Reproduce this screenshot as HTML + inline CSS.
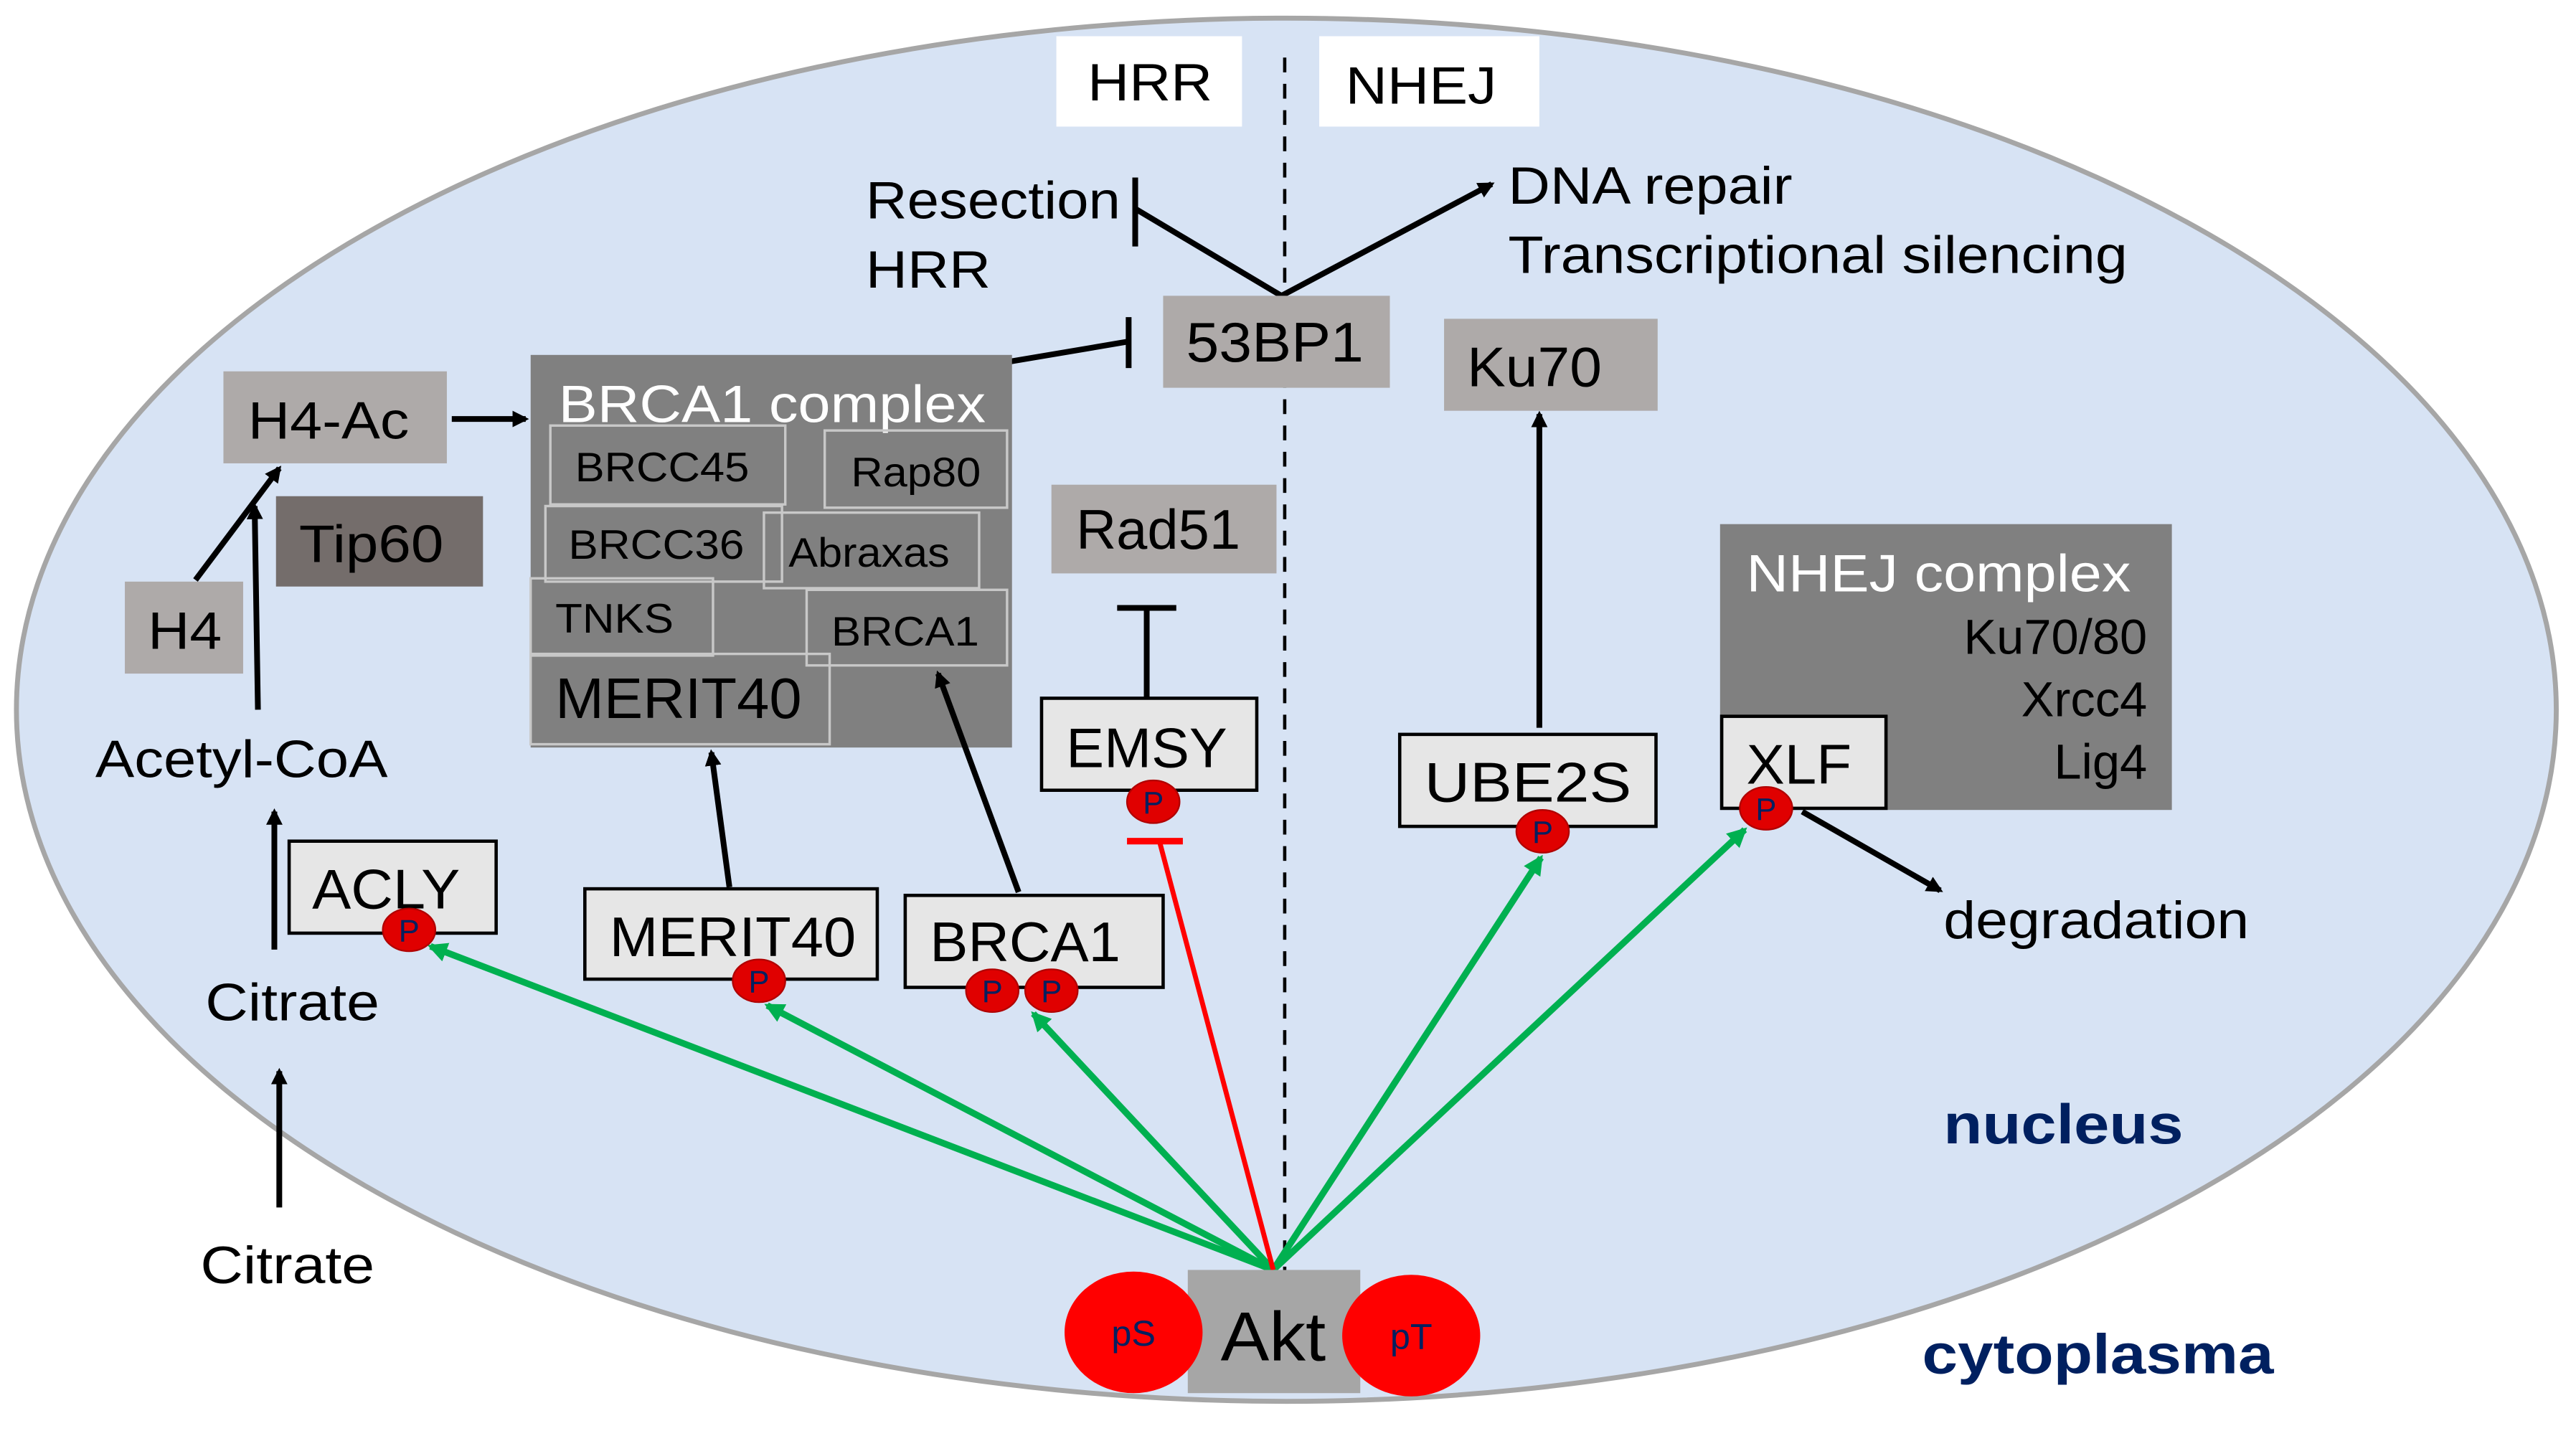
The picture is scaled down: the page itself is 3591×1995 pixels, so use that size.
<!DOCTYPE html>
<html><head><meta charset="utf-8"><style>html,body{margin:0;padding:0;background:#fff}svg{display:block}</style></head>
<body>
<svg width="3591" height="1995" viewBox="0 0 1568 871" xmlns="http://www.w3.org/2000/svg" font-family="Liberation Sans, Arial, sans-serif">
<defs>
<marker id="ab" markerWidth="10" markerHeight="10" refX="8" refY="5" orient="auto" markerUnits="userSpaceOnUse"><path d="M0,0 L10,5 L0,10 z" fill="#000"/></marker>
<marker id="ag" markerWidth="12" markerHeight="12" refX="10" refY="6" orient="auto" markerUnits="userSpaceOnUse"><path d="M0,0 L12,6 L0,12 z" fill="#00b050"/></marker>
</defs>
<rect width="1568" height="871" fill="#fff"/>
<ellipse cx="783" cy="432" rx="773" ry="421" fill="#d7e3f4" stroke="#a6a6a6" stroke-width="3"/>
<rect x="643" y="22" width="113" height="55" fill="#fff"/>
<text x="700" y="61" font-size="32" text-anchor="middle" textLength="76" lengthAdjust="spacingAndGlyphs">HRR</text>
<rect x="803" y="22" width="134" height="55" fill="#fff"/>
<text x="865" y="63" font-size="32" text-anchor="middle" textLength="92" lengthAdjust="spacingAndGlyphs">NHEJ</text>
<line x1="782" y1="35" x2="782" y2="775" stroke="#000" stroke-width="2" stroke-dasharray="9,7"/>
<g font-size="32">
<text x="527" y="133" textLength="155" lengthAdjust="spacingAndGlyphs">Resection</text><text x="527" y="175" textLength="76" lengthAdjust="spacingAndGlyphs">HRR</text>
<text x="918" y="124" textLength="173" lengthAdjust="spacingAndGlyphs">DNA repair</text><text x="918" y="166" textLength="377" lengthAdjust="spacingAndGlyphs">Transcriptional silencing</text>
</g>
<g stroke="#000" stroke-width="3.5" fill="none">
<polyline points="691,127 780,180"/>
<line x1="691" y1="108" x2="691" y2="150"/>
<line x1="780" y1="180" x2="908" y2="112" marker-end="url(#ab)"/>
<line x1="615" y1="220" x2="686" y2="208"/>
<line x1="687" y1="193" x2="687" y2="224"/>
</g>
<rect x="708" y="180" width="138" height="56" fill="#aeaaa9"/>
<text x="722" y="220" font-size="34" textLength="108" lengthAdjust="spacingAndGlyphs">53BP1</text>
<rect x="323" y="216" width="293" height="239" fill="#808080"/>
<text x="340" y="257" font-size="32" fill="#fff" textLength="260" lengthAdjust="spacingAndGlyphs">BRCA1 complex</text>
<g fill="none" stroke="#c8c8c8" stroke-width="1.5">
<rect x="335" y="259" width="143" height="48"/><rect x="502" y="262" width="111" height="47"/>
<rect x="332" y="308" width="144" height="46"/><rect x="465" y="312" width="131" height="46"/>
<rect x="323" y="352" width="111" height="47"/><rect x="491" y="359" width="122" height="46"/>
<rect x="323" y="398" width="182" height="55"/>
</g>
<g font-size="25">
<text x="350" y="293" textLength="106" lengthAdjust="spacingAndGlyphs">BRCC45</text><text x="518" y="296" textLength="79" lengthAdjust="spacingAndGlyphs">Rap80</text>
<text x="346" y="340" textLength="107" lengthAdjust="spacingAndGlyphs">BRCC36</text><text x="480" y="345" textLength="98" lengthAdjust="spacingAndGlyphs">Abraxas</text>
<text x="338" y="385" textLength="72" lengthAdjust="spacingAndGlyphs">TNKS</text><text x="506" y="393" textLength="90" lengthAdjust="spacingAndGlyphs">BRCA1</text>
</g>
<text x="338" y="437" font-size="35" textLength="150" lengthAdjust="spacingAndGlyphs">MERIT40</text>
<rect x="136" y="226" width="136" height="56" fill="#aeaaa9"/>
<text x="151" y="267" font-size="32" textLength="98" lengthAdjust="spacingAndGlyphs">H4-Ac</text>
<rect x="168" y="302" width="126" height="55" fill="#746d6b"/>
<text x="182" y="342" font-size="32" textLength="88" lengthAdjust="spacingAndGlyphs">Tip60</text>
<rect x="76" y="354" width="72" height="56" fill="#aeaaa9"/>
<text x="90" y="395" font-size="32" textLength="45" lengthAdjust="spacingAndGlyphs">H4</text>
<text x="58" y="473" font-size="32" textLength="178" lengthAdjust="spacingAndGlyphs">Acetyl-CoA</text>
<text x="125" y="621" font-size="32" textLength="106" lengthAdjust="spacingAndGlyphs">Citrate</text>
<text x="122" y="781" font-size="32" textLength="106" lengthAdjust="spacingAndGlyphs">Citrate</text>
<g stroke="#000" stroke-width="3.5" fill="none">
<line x1="275" y1="255" x2="320" y2="255" marker-end="url(#ab)"/>
<line x1="119" y1="353" x2="170" y2="285" marker-end="url(#ab)"/>
<line x1="157" y1="432" x2="155" y2="308" marker-end="url(#ab)"/>
<line x1="167" y1="578" x2="167" y2="494" marker-end="url(#ab)"/>
<line x1="170" y1="735" x2="170" y2="652" marker-end="url(#ab)"/>
<line x1="444" y1="540" x2="433" y2="458" marker-end="url(#ab)"/>
<line x1="620" y1="543" x2="571" y2="410" marker-end="url(#ab)"/>
<line x1="698" y1="425" x2="698" y2="370"/>
<line x1="680" y1="370" x2="716" y2="370"/>
<line x1="937" y1="443" x2="937" y2="252" marker-end="url(#ab)"/>
<line x1="1097" y1="494" x2="1181" y2="542" marker-end="url(#ab)"/>
</g>
<g fill="#e6e6e6" stroke="#000" stroke-width="2">
<rect x="176" y="512" width="126" height="56"/>
<rect x="356" y="541" width="178" height="55"/>
<rect x="551" y="545" width="157" height="56"/>
<rect x="634" y="425" width="131" height="56"/>
<rect x="852" y="447" width="156" height="56"/>
</g>
<g font-size="34" lengthAdjust="spacingAndGlyphs">
<text x="190" y="553" textLength="90" lengthAdjust="spacingAndGlyphs">ACLY</text><text x="371" y="582" textLength="150" lengthAdjust="spacingAndGlyphs">MERIT40</text>
<text x="566" y="585" textLength="116" lengthAdjust="spacingAndGlyphs">BRCA1</text><text x="649" y="467" textLength="98" lengthAdjust="spacingAndGlyphs">EMSY</text><text x="867" y="488" textLength="126" lengthAdjust="spacingAndGlyphs">UBE2S</text>
</g>
<rect x="640" y="295" width="137" height="54" fill="#aeaaa9"/>
<text x="655" y="334" font-size="34" textLength="100" lengthAdjust="spacingAndGlyphs">Rad51</text>
<rect x="879" y="194" width="130" height="56" fill="#aeaaa9"/>
<text x="893" y="235" font-size="34" textLength="82" lengthAdjust="spacingAndGlyphs">Ku70</text>
<rect x="1047" y="319" width="275" height="174" fill="#808080"/>
<text x="1063" y="360" font-size="32" fill="#fff" textLength="234" lengthAdjust="spacingAndGlyphs">NHEJ complex</text>
<g font-size="30" text-anchor="end"><text x="1307" y="398">Ku70/80</text><text x="1307" y="436">Xrcc4</text><text x="1307" y="474">Lig4</text></g>
<rect x="1048" y="436" width="100" height="56" fill="#e6e6e6" stroke="#000" stroke-width="2"/>
<text x="1063" y="477" font-size="34" textLength="64" lengthAdjust="spacingAndGlyphs">XLF</text>
<text x="1183" y="571" font-size="32" textLength="186" lengthAdjust="spacingAndGlyphs">degradation</text>
<g stroke="#00b050" stroke-width="4" fill="none">
<line x1="775" y1="773" x2="262" y2="576" marker-end="url(#ag)"/>
<line x1="775" y1="773" x2="467" y2="612" marker-end="url(#ag)"/>
<line x1="775" y1="773" x2="629" y2="617" marker-end="url(#ag)"/>
<line x1="775" y1="773" x2="938" y2="522" marker-end="url(#ag)"/>
<line x1="775" y1="773" x2="1062" y2="505" marker-end="url(#ag)"/>
</g>
<line x1="775" y1="773" x2="706" y2="513" stroke="#ff0000" stroke-width="3"/>
<line x1="686" y1="512" x2="720" y2="512" stroke="#ff0000" stroke-width="4"/>
<g fill="#e00000" stroke="#b00000" stroke-width="1">
<ellipse cx="249" cy="566" rx="16" ry="13"/><ellipse cx="462" cy="597" rx="16" ry="13"/>
<ellipse cx="604" cy="603" rx="16" ry="13"/><ellipse cx="640" cy="603" rx="16" ry="13"/>
<ellipse cx="702" cy="488" rx="16" ry="13"/><ellipse cx="939" cy="506" rx="16" ry="13"/>
<ellipse cx="1075" cy="492" rx="16" ry="13"/>
</g>
<g font-size="19" fill="#002060" text-anchor="middle">
<text x="249" y="573">P</text><text x="462" y="604">P</text><text x="604" y="610">P</text><text x="640" y="610">P</text>
<text x="702" y="495">P</text><text x="939" y="513">P</text><text x="1075" y="499">P</text>
</g>
<text x="1183" y="696" font-size="34" font-weight="bold" fill="#002060" textLength="146" lengthAdjust="spacingAndGlyphs">nucleus</text>
<text x="1170" y="836" font-size="34" font-weight="bold" fill="#002060" textLength="214" lengthAdjust="spacingAndGlyphs">cytoplasma</text>
<rect x="723" y="773" width="105" height="75" fill="#a6a6a6"/>
<ellipse cx="690" cy="811" rx="42" ry="37" fill="#ff0000"/>
<ellipse cx="859" cy="813" rx="42" ry="37" fill="#ff0000"/>
<text x="743" y="828" font-size="42" textLength="64" lengthAdjust="spacingAndGlyphs">Akt</text>
<text x="690" y="819" font-size="22" fill="#002060" text-anchor="middle">pS</text>
<text x="859" y="821" font-size="22" fill="#002060" text-anchor="middle">pT</text>
</svg>
</body></html>
